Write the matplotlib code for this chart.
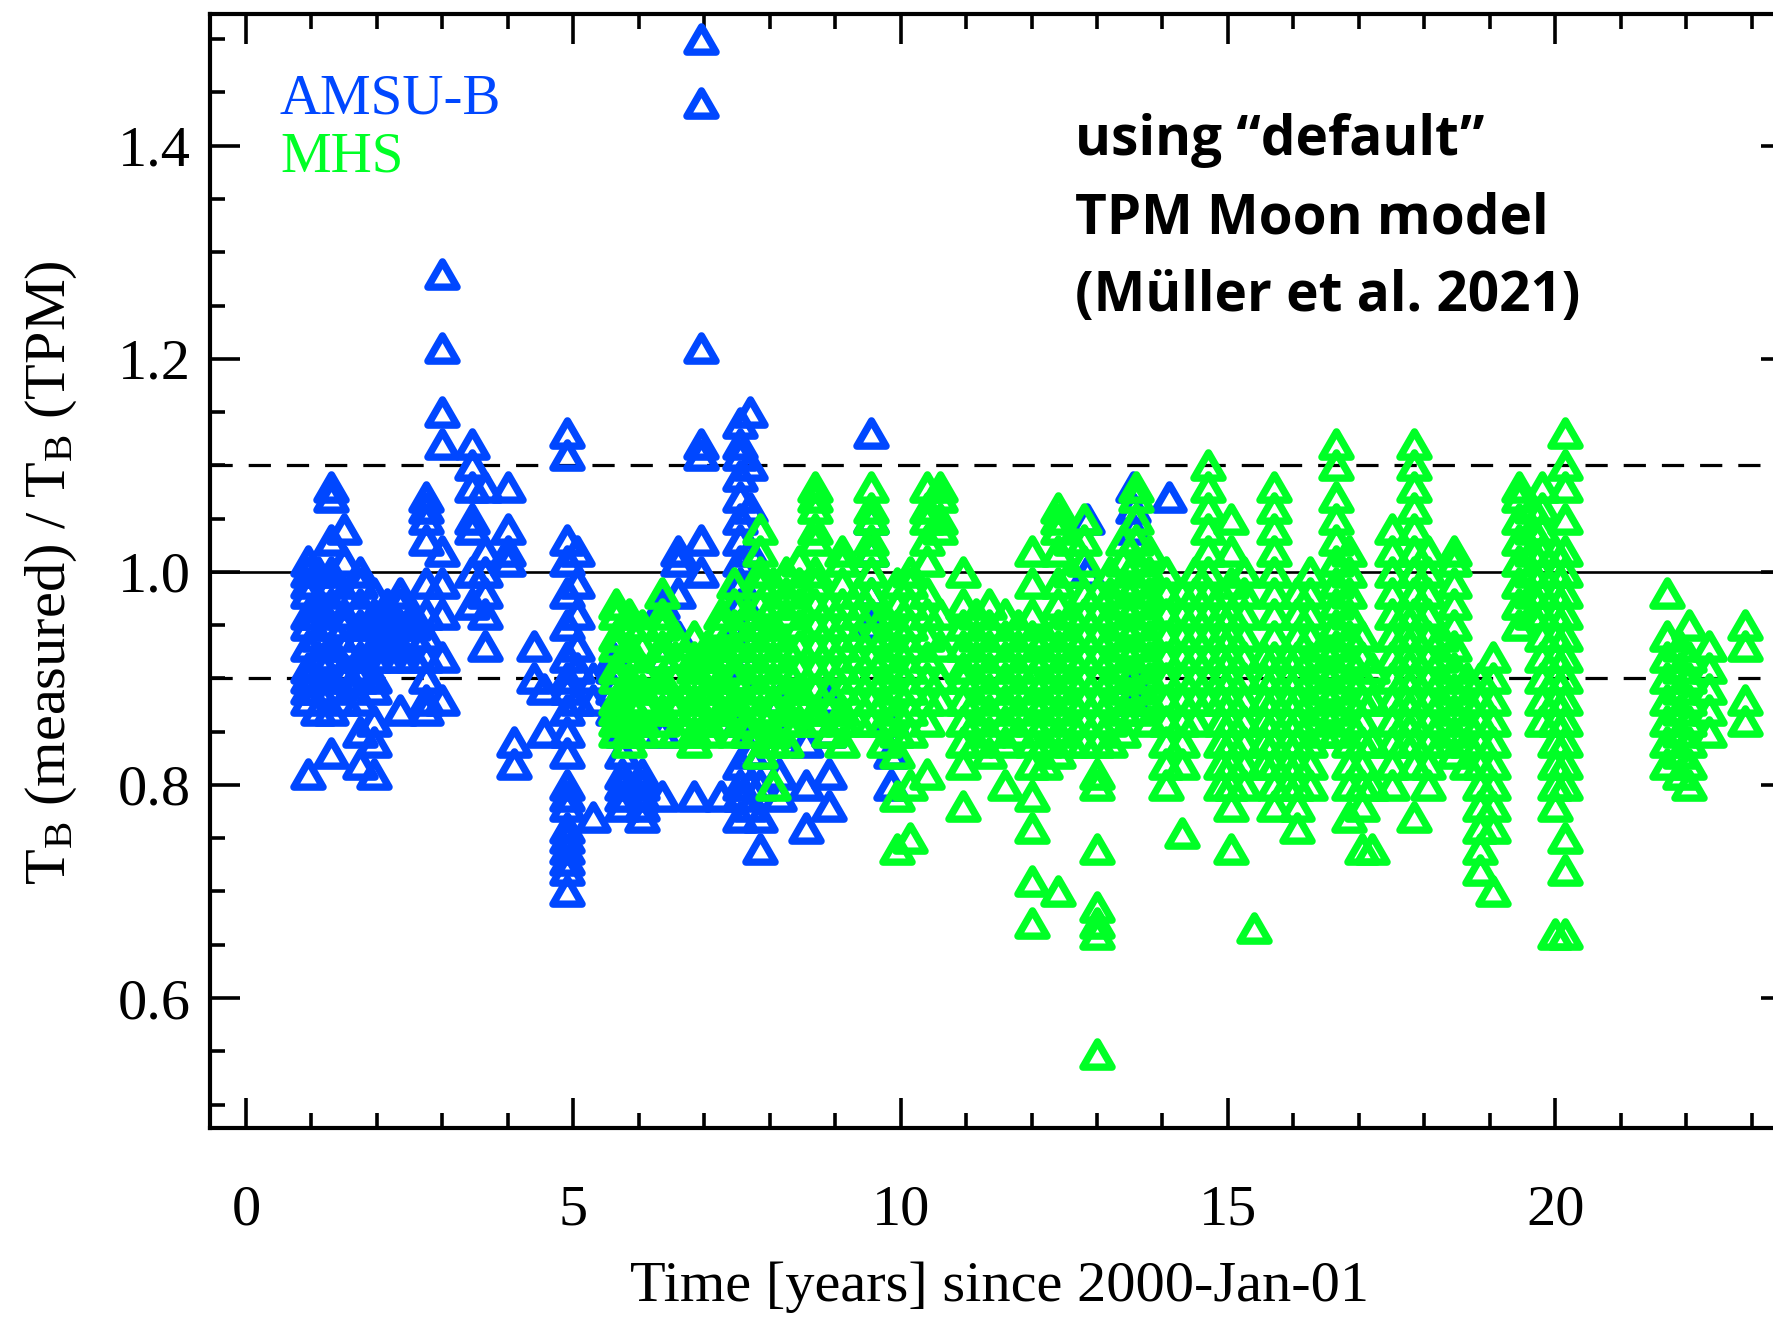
import matplotlib

matplotlib.use("Agg")

import matplotlib.pyplot as plt  # noqa: E402
from matplotlib.markers import MarkerStyle  # noqa: E402
from matplotlib.path import Path  # noqa: E402
from matplotlib.ticker import MultipleLocator  # noqa: E402

plt.rcParams["font.family"] = "Liberation Serif"
plt.rcParams["mathtext.fontset"] = "custom"
plt.rcParams["mathtext.rm"] = "Liberation Serif"
plt.rcParams["mathtext.it"] = "Liberation Serif:italic"
plt.rcParams["lines.scale_dashes"] = False

BLUE = "#0047ff"
GREEN = "#00ff26"

# AMSU-B: observation epoch (years since 2000-01-01) and the ratios measured there
amsub_epochs = [
    0.95, 1.10, 1.30, 1.50, 1.75, 1.95, 2.15, 2.35, 2.55, 2.75, 3.00, 3.45,
    3.65, 4.00, 4.10, 4.40, 4.55, 4.90, 5.05, 5.30, 5.60, 5.75, 6.05, 6.35,
    6.60, 6.85, 6.95, 7.25, 7.55, 7.70, 7.85, 8.15, 8.55, 8.90, 9.55, 9.85,
    12.85, 13.55, 14.10,
]
amsub_ratios = [
    [0.81, 0.88, 0.89, 0.90, 0.91, 0.93, 0.95, 0.96, 0.98, 0.99, 1.00, 1.01],
    [0.87, 0.89, 0.92, 0.94, 0.96, 0.97, 1.00],
    [0.83, 0.87, 0.89, 0.90, 0.92, 0.93, 0.95, 0.97, 0.99, 1.00, 1.03,
     1.07, 1.08],
    [0.88, 0.90, 0.91, 0.93, 0.95, 0.96, 0.98, 1.01, 1.04],
    [0.82, 0.85, 0.88, 0.90, 0.91, 0.92, 0.94, 0.95, 0.97, 0.99, 1.00],
    [0.81, 0.84, 0.86, 0.89, 0.90, 0.92, 0.93, 0.95, 0.96, 0.98],
    [0.92, 0.93, 0.94, 0.95, 0.96, 0.97],
    [0.87, 0.92, 0.93, 0.95, 0.97, 0.98],
    [0.92, 0.94, 0.95, 0.96],
    [0.87, 0.88, 0.90, 0.92, 0.94, 0.96, 0.99, 1.03, 1.05, 1.06, 1.07],
    [0.88, 0.92, 0.96, 0.99, 1.02, 1.12, 1.15, 1.21, 1.28],
    [0.97, 1.00, 1.04, 1.05, 1.08, 1.10, 1.12],
    [0.93, 0.96, 0.98, 1.00, 1.02, 1.08],
    [1.01, 1.02, 1.04, 1.08],
    [0.82, 0.84],
    [0.90, 0.93],
    [0.85, 0.89],
    [0.70, 0.72, 0.73, 0.74, 0.75, 0.76, 0.78, 0.79, 0.80, 0.83, 0.85,
     0.87, 0.89, 0.90, 0.92, 0.95, 0.98, 1.01, 1.03, 1.11, 1.13],
    [0.88, 0.91, 0.93, 0.96, 0.99, 1.02],
    [0.77, 0.88, 0.90],
    [0.87, 0.89, 0.91, 0.92],
    [0.78, 0.79, 0.80, 0.81, 0.83, 0.85, 0.86],
    [0.77, 0.78, 0.79, 0.80, 0.81, 0.86],
    [0.79, 0.85, 0.87, 0.92, 0.97],
    [0.94, 0.98, 1.01, 1.02],
    [0.79],
    [1.00, 1.03, 1.11, 1.12, 1.21, 1.44, 1.50],
    [0.79],
    [0.77, 0.79, 0.80, 0.82, 0.86, 0.90, 0.93, 0.95, 0.97, 0.99, 1.01,
     1.03, 1.05, 1.07, 1.09, 1.11, 1.12, 1.14],
    [0.78, 0.80, 0.83, 0.85, 0.96, 1.02, 1.06, 1.10, 1.15],
    [0.74, 0.77, 0.80, 0.83],
    [0.79, 0.81, 0.85, 0.88],
    [0.76, 0.80, 0.84],
    [0.78, 0.81, 0.85, 0.88],
    [0.95, 0.98, 1.02, 1.05, 1.13],
    [0.80, 0.83, 0.86],
    [1.00, 1.05],
    [0.88, 0.90, 1.04, 1.06, 1.08],
    [1.07],
]

# MHS: same layout
mhs_epochs = [
    5.65, 5.85, 6.05, 6.35, 6.55, 6.85, 7.05, 7.25, 7.45, 7.65, 7.85, 8.05,
    8.25, 8.45, 8.70, 8.90, 9.10, 9.35, 9.55, 9.75, 9.95, 10.15, 10.40,
    10.60, 10.95, 11.15, 11.35, 11.60, 11.80, 12.00, 12.20, 12.40, 12.60,
    12.80, 13.00, 13.20, 13.40, 13.60, 13.80, 14.05, 14.30, 14.50, 14.70,
    14.90, 15.05, 15.25, 15.40, 15.55, 15.70, 15.90, 16.05, 16.25, 16.45,
    16.65, 16.85, 17.05, 17.20, 17.50, 17.70, 17.85, 18.05, 18.25, 18.45,
    18.65, 18.85, 19.05, 19.45, 19.65, 19.80, 20.00, 20.15, 21.70, 21.90,
    22.05, 22.35, 22.90,
]
mhs_ratios = [
    [0.85, 0.86, 0.87, 0.88, 0.90, 0.91, 0.93, 0.94, 0.96, 0.97],
    [0.84, 0.85, 0.86, 0.88, 0.89, 0.90, 0.92, 0.93, 0.95, 0.96],
    [0.85, 0.86, 0.88, 0.89, 0.91, 0.93, 0.95],
    [0.86, 0.87, 0.89, 0.90, 0.92, 0.93, 0.95, 0.96, 0.98],
    [0.85, 0.87, 0.88, 0.90, 0.92, 0.94],
    [0.84, 0.85, 0.87, 0.88, 0.90, 0.91, 0.92, 0.94],
    [0.85, 0.86, 0.88, 0.89, 0.91, 0.92, 0.93],
    [0.86, 0.87, 0.89, 0.90, 0.92, 0.93, 0.95, 0.96],
    [0.85, 0.87, 0.88, 0.90, 0.91, 0.93, 0.95, 0.97, 0.99],
    [0.85, 0.86, 0.88, 0.90, 0.92, 0.94, 0.96],
    [0.83, 0.85, 0.87, 0.89, 0.91, 0.93, 0.95, 0.97, 0.99, 1.00, 1.02, 1.04],
    [0.80, 0.84, 0.85, 0.87, 0.88, 0.90, 0.92, 0.94, 0.95, 0.97, 0.99],
    [0.84, 0.86, 0.87, 0.89, 0.91, 0.93, 0.96, 0.98, 1.00],
    [0.86, 0.88, 0.89, 0.91, 0.93, 0.95, 0.97, 0.99, 1.01],
    [0.86, 0.87, 0.89, 0.91, 0.93, 0.95, 0.97, 0.99, 1.00, 1.03, 1.04,
     1.06, 1.07, 1.08],
    [0.85, 0.87, 0.89, 0.91, 0.93, 0.95, 0.97],
    [0.84, 0.86, 0.87, 0.89, 0.91, 0.93, 0.95, 0.97, 0.99, 1.01, 1.02],
    [0.86, 0.88, 0.90, 0.92, 0.94, 0.96, 0.98],
    [0.86, 0.88, 0.90, 0.92, 0.94, 0.96, 0.98, 1.00, 1.02, 1.03, 1.05,
     1.06, 1.08],
    [0.84, 0.86, 0.88, 0.90, 0.92, 0.94, 0.96],
    [0.74, 0.79, 0.83, 0.85, 0.87, 0.89, 0.91, 0.93, 0.95, 0.97, 0.99],
    [0.75, 0.80, 0.85, 0.87, 0.89, 0.91, 0.93, 0.95, 0.97, 0.99, 1.00],
    [0.81, 0.86, 0.88, 0.90, 0.92, 0.94, 0.96, 0.98, 1.01, 1.03, 1.05,
     1.06, 1.08],
    [0.88, 0.90, 0.93, 0.96, 1.04, 1.05, 1.07, 1.08],
    [0.78, 0.82, 0.84, 0.86, 0.88, 0.90, 0.91, 0.93, 0.95, 0.97, 1.00],
    [0.84, 0.86, 0.88, 0.90, 0.92, 0.94, 0.96],
    [0.83, 0.85, 0.87, 0.89, 0.91, 0.93, 0.95, 0.97],
    [0.80, 0.84, 0.86, 0.88, 0.90, 0.92, 0.94, 0.96],
    [0.85, 0.87, 0.89, 0.91, 0.93, 0.95],
    [0.67, 0.71, 0.76, 0.79, 0.82, 0.84, 0.86, 0.88, 0.90, 0.92, 0.94,
     0.96, 0.99, 1.02],
    [0.82, 0.84, 0.86, 0.88, 0.90, 0.92, 0.94],
    [0.70, 0.83, 0.85, 0.87, 0.89, 0.91, 0.93, 0.95, 0.97, 0.99, 1.02,
     1.04, 1.05, 1.06],
    [0.84, 0.86, 0.88, 0.90, 0.92, 0.94, 0.96, 1.00, 1.03],
    [0.84, 0.86, 0.88, 0.90, 0.92, 0.94, 0.96, 0.98, 1.01, 1.03, 1.05],
    [0.547, 0.66, 0.67, 0.685, 0.74, 0.80, 0.81, 0.84, 0.86, 0.88, 0.90,
     0.92, 0.94, 0.96, 0.98],
    [0.84, 0.86, 0.88, 0.90, 0.92, 0.94, 0.96, 0.98, 1.00],
    [0.85, 0.87, 0.89, 0.91, 0.93, 0.95, 0.97, 0.99, 1.01, 1.03],
    [0.87, 0.89, 0.91, 0.93, 0.95, 0.97, 0.99, 1.01, 1.03, 1.05, 1.07, 1.08],
    [0.86, 0.88, 0.90, 0.92, 0.94, 0.96, 0.98, 1.00, 1.02],
    [0.80, 0.82, 0.84, 0.86, 0.88, 0.90, 0.92, 0.94, 0.96, 0.98, 1.00],
    [0.755, 0.82, 0.84, 0.86, 0.88, 0.90, 0.92, 0.94, 0.96, 0.98],
    [0.86, 0.88, 0.90, 0.92, 0.94, 0.96, 0.98, 1.00],
    [0.88, 0.90, 0.92, 0.94, 0.96, 0.98, 1.00, 1.02, 1.04, 1.06, 1.08, 1.10],
    [0.80, 0.82, 0.84, 0.86, 0.88, 0.90, 0.92, 0.94, 0.96, 0.98],
    [0.74, 0.78, 0.80, 0.82, 0.84, 0.86, 0.88, 0.90, 0.92, 0.94, 0.96,
     0.99, 1.02, 1.05],
    [0.80, 0.82, 0.84, 0.86, 0.88, 0.90, 0.92, 0.94, 0.96, 0.98, 1.00],
    [0.666],
    [0.82, 0.84, 0.86, 0.88, 0.90, 0.92],
    [0.78, 0.80, 0.82, 0.84, 0.86, 0.88, 0.90, 0.92, 0.94, 0.96, 0.98,
     1.00, 1.02, 1.04, 1.06, 1.08],
    [0.80, 0.82, 0.84, 0.86, 0.88, 0.90, 0.92],
    [0.76, 0.78, 0.80, 0.82, 0.84, 0.86, 0.88, 0.90, 0.92, 0.94, 0.96, 0.98],
    [0.80, 0.82, 0.84, 0.86, 0.88, 0.90, 0.92, 0.94, 0.96, 0.98, 1.00],
    [0.85, 0.87, 0.89, 0.91, 0.93],
    [0.85, 0.87, 0.89, 0.91, 0.93, 0.95, 0.97, 0.99, 1.01, 1.03, 1.05,
     1.07, 1.10, 1.12],
    [0.77, 0.80, 0.82, 0.84, 0.86, 0.88, 0.90, 0.92, 0.94, 0.96, 0.98,
     1.00, 1.02],
    [0.74, 0.78, 0.80, 0.82, 0.84, 0.86, 0.88, 0.90, 0.92, 0.94],
    [0.74, 0.80, 0.84, 0.88, 0.91],
    [0.80, 0.82, 0.84, 0.86, 0.88, 0.90, 0.92, 0.94, 0.96, 0.98, 1.00,
     1.02, 1.04],
    [0.84, 0.86, 0.88, 0.90, 0.92, 0.94, 0.96],
    [0.77, 0.82, 0.84, 0.86, 0.88, 0.90, 0.92, 0.94, 0.96, 0.98, 1.00,
     1.02, 1.04, 1.06, 1.08, 1.10, 1.12],
    [0.80, 0.82, 0.84, 0.86, 0.88, 0.90, 0.92, 0.94, 0.96, 0.98, 1.00, 1.02],
    [0.84, 0.86, 0.88, 0.90, 0.92, 0.94],
    [0.83, 0.85, 0.87, 0.89, 0.91, 0.93, 0.95, 0.97, 0.99, 1.01, 1.02],
    [0.82, 0.84, 0.86, 0.88, 0.90],
    [0.72, 0.74, 0.76, 0.78, 0.80, 0.82, 0.84, 0.86, 0.88, 0.90],
    [0.70, 0.76, 0.78, 0.80, 0.82, 0.84, 0.86, 0.88, 0.90, 0.92],
    [0.95, 0.97, 0.99, 1.01, 1.03, 1.05, 1.07, 1.08],
    [0.96, 0.98, 1.00, 1.02, 1.04, 1.06],
    [0.86, 0.88, 0.90, 0.92, 0.94, 0.96, 0.98, 1.00, 1.02, 1.04, 1.06, 1.08],
    [0.66, 0.78, 0.80, 0.82, 0.84, 0.86, 0.88, 0.90, 0.92, 0.94, 0.96,
     0.98, 1.00, 1.02],
    [0.66, 0.72, 0.75, 0.80, 0.82, 0.84, 0.86, 0.88, 0.90, 0.92, 0.94,
     0.96, 0.98, 1.00, 1.02, 1.05, 1.08, 1.10, 1.13],
    [0.82, 0.84, 0.86, 0.88, 0.90, 0.92, 0.94, 0.98],
    [0.81, 0.83, 0.85, 0.87, 0.89, 0.91, 0.93],
    [0.80, 0.82, 0.84, 0.86, 0.88, 0.90, 0.92, 0.95],
    [0.85, 0.87, 0.89, 0.91, 0.93],
    [0.86, 0.88, 0.93, 0.95],
]

y_major = [0.6, 0.8, 1.0, 1.2, 1.4]
x_major = [0, 5, 10, 15, 20]


def flatten(epochs, ratios):
    xs, ys = [], []
    for t, values in zip(epochs, ratios):
        for v in values:
            xs.append(t)
            ys.append(v)
    return xs, ys


# open equilateral triangle, centred on its bounding box
triangle = MarkerStyle(
    Path([(-1.0, -0.866), (1.0, -0.866), (0.0, 0.866), (-1.0, -0.866)],
         closed=True),
    fillstyle="none",
    joinstyle="miter",
)

fig = plt.figure(figsize=(17.73, 13.19), dpi=100)
ax = fig.add_axes([0.1184, 0.1448, 0.8917, 0.8449])

ax.axhline(1.0, color="black", linewidth=1.9, zorder=1)
for level in (0.9, 1.1):
    ax.axhline(level, color="black", linewidth=2.3, dashes=(16, 11.5), zorder=1)

marker_style = dict(linestyle="none", marker=triangle, markersize=21,
                    markeredgewidth=5.3, zorder=2)
bx, by = flatten(amsub_epochs, amsub_ratios)
ax.plot(bx, by, markeredgecolor=BLUE, **marker_style)
gx, gy = flatten(mhs_epochs, mhs_ratios)
ax.plot(gx, gy, markeredgecolor=GREEN, **marker_style)

ax.set_xlim(-0.55, 23.6)
ax.set_ylim(0.478, 1.524)
ax.set_xticks(x_major)
ax.set_yticks(y_major)
ax.set_yticklabels([f"{v:.1f}" for v in y_major])
ax.xaxis.set_minor_locator(MultipleLocator(1))
ax.yaxis.set_minor_locator(MultipleLocator(0.05))
ax.tick_params(which="both", direction="in", top=True, right=True,
               width=2.6, labelsize=42, color="black")
ax.tick_params(which="major", length=21.5)
ax.tick_params(which="minor", length=10.5)
ax.tick_params(axis="x", which="major", pad=41)
ax.tick_params(axis="y", which="major", pad=14)
for spine in ax.spines.values():
    spine.set_linewidth(3.0)

fig.text(1000 / 1773, 1 - 1287 / 1319, "Time [years] since 2000-Jan-01",
         ha="center", va="center", fontsize=42)
fig.text(51 / 1773, 1 - 573 / 1319,
         r"T$_\mathrm{B}$ (measured) / T$_\mathrm{B}$ (TPM)",
         ha="center", va="center", rotation=90, fontsize=42)

fig.text(280 / 1773, 1 - 113 / 1319, "AMSU-B", color=BLUE, fontsize=41,
         va="baseline")
fig.text(280 / 1773, 1 - 172 / 1319, "MHS", color=GREEN, fontsize=41,
         va="baseline")

note_lines = ["using \u201cdefault\u201d", "TPM Moon model",
              "(M\u00fcller et al. 2021)"]
for i, line in enumerate(note_lines):
    fig.text(1075 / 1773, 1 - (155 + 78 * i) / 1319, line, family="Open Sans",
             fontweight="bold", fontsize=39.5, va="baseline")

fig.savefig("out.png", dpi=100)
